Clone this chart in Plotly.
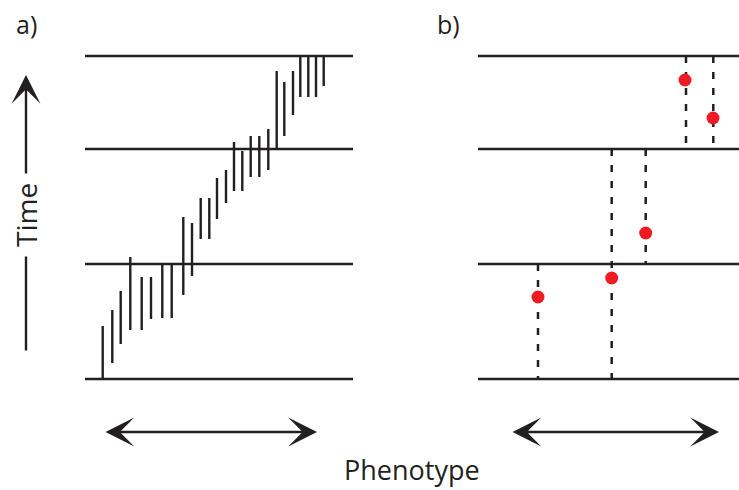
import plotly.graph_objects as go

# Epoch boundaries (time measured upward from the bottom line)
epoch_times = [0, 115, 230, 323]

# Panel a: phenotype position of each lineage segment with its start/end time
a_pheno = [102.7, 112.3, 120.7, 130.3, 141.7, 151.0, 162.3, 171.7, 183.3, 192.0,
           200.7, 209.3, 217.0, 226.0, 234.0, 242.3, 250.7, 259.3, 268.3, 276.7,
           284.3, 293.0, 300.3, 308.3, 316.0, 323.7]
a_start = [0, 16, 35, 49, 49, 60, 61, 61, 84, 103,
           140, 140, 160, 176, 188, 188, 202, 202, 209, 230,
           243, 264, 282, 282, 282, 293]
a_end = [53, 69, 88, 122, 102, 102, 114, 114, 162, 156,
         181, 181, 201, 209, 237, 228, 243, 243, 250, 308,
         297, 308, 323, 323, 323, 323]

# Panel b: dashed lineages (phenotype, time from, time to) and sampled fossils
b_pheno = [538.0, 611.7, 645.7, 686.0, 713.3]
b_from = [115, 230, 230, 323, 323]
b_to = [0, 0, 115, 230, 230]
fossil_pheno = [538.0, 611.7, 645.7, 685.0, 713.0]
fossil_time = [82, 101, 146, 299, 261]

# Horizontal extents of the two panels
panel_a_x = [85, 353]
panel_b_x = [478, 739]

INK = "#231F20"
RED = "#ED1C24"
FONT = "Open Sans"

fig = go.Figure()

# epoch lines
for x0, x1 in (panel_a_x, panel_b_x):
    xs, ys = [], []
    for t in epoch_times:
        xs += [x0, x1, None]
        ys += [t, t, None]
    fig.add_trace(go.Scatter(x=xs, y=ys, mode="lines",
                             line=dict(color=INK, width=2.6), hoverinfo="skip"))

# panel a segments
xs, ys = [], []
for p, s, e in zip(a_pheno, a_start, a_end):
    xs += [p, p, None]
    ys += [s, e, None]
fig.add_trace(go.Scatter(x=xs, y=ys, mode="lines",
                         line=dict(color=INK, width=2.4), hoverinfo="skip"))

# panel b dashed lineages
for p, f, t in zip(b_pheno, b_from, b_to):
    fig.add_trace(go.Scatter(x=[p, p], y=[f, t], mode="lines",
                             line=dict(color=INK, width=2.5, dash="7px,9px"),
                             hoverinfo="skip"))

# fossils
fig.add_trace(go.Scatter(x=fossil_pheno, y=fossil_time, mode="markers",
                         marker=dict(color=RED, size=13, line=dict(width=0)),
                         hoverinfo="skip"))

annotations = []

# double-headed phenotype arrows
for x0, x1 in ((104, 317), (511, 719)):
    annotations.append(dict(x=x1, y=-53, ax=x0, ay=-53, xref="x", yref="y",
                            axref="x", ayref="y", text="", showarrow=True,
                            arrowhead=3, startarrowhead=3, arrowside="end+start",
                            arrowsize=2.0, startarrowsize=2.0, arrowwidth=2.4,
                            arrowcolor=INK, standoff=0, startstandoff=0))

# time arrow
annotations.append(dict(x=26, y=304, ax=26, ay=27, xref="x", yref="y",
                        axref="x", ayref="y", text="", showarrow=True,
                        arrowhead=3, arrowsize=2.0, arrowwidth=2.4,
                        arrowcolor=INK, standoff=0))
annotations.append(dict(x=26, y=164, xref="x", yref="y", text="Time",
                        showarrow=False, textangle=-90, bgcolor="white",
                        font=dict(family=FONT, size=28, color=INK),
                        borderpad=9))

annotations.append(dict(x=412, y=-90, xref="x", yref="y", text="Phenotype",
                        showarrow=False,
                        font=dict(family=FONT, size=27, color=INK)))
annotations.append(dict(x=26, y=355, xref="x", yref="y", text="a)",
                        showarrow=False,
                        font=dict(family=FONT, size=25, color=INK)))
annotations.append(dict(x=448, y=355, xref="x", yref="y", text="b)",
                        showarrow=False,
                        font=dict(family=FONT, size=25, color=INK)))

fig.update_layout(
    width=739, height=490,
    margin=dict(l=0, r=0, t=0, b=0),
    paper_bgcolor="white", plot_bgcolor="white",
    showlegend=False,
    xaxis=dict(range=[0, 739], visible=False, fixedrange=True),
    yaxis=dict(range=[-111, 379], visible=False, fixedrange=True),
    annotations=annotations,
)

fig.write_html("out.html")
